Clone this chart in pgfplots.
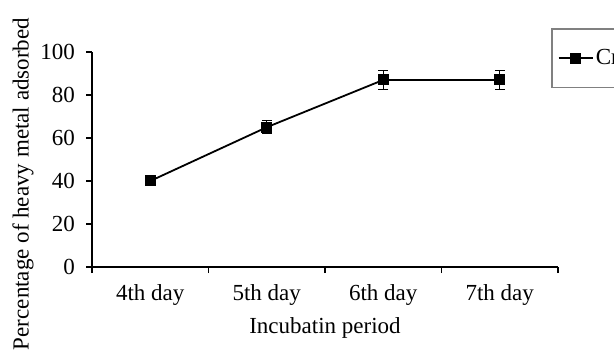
\documentclass[border=0pt]{standalone}
\usepackage{pgfplots}
\pgfplotsset{compat=1.18}
\usepackage{fontspec}
\setmainfont{Liberation Serif}
\begin{document}
\fontsize{11.5}{13.8}\selectfont
\begin{tikzpicture}
\path[use as bounding box] (-46pt,-45.5pt) rectangle (261pt,133.5pt);
\begin{axis}[
  at={(0,0)}, anchor=south west,
  scale only axis, width=233pt, height=107.5pt,
  axis lines=left, axis line style={-, line width=0.9pt},
  xmin=-0.5, xmax=3.5, ymin=0, ymax=100,
  xtick={-0.5,0.5,1.5,2.5,3.5},
  x tick label as interval,
  xticklabels={4th day,5th day,6th day,7th day},
  ytick={0,20,40,60,80,100},
  tick align=outside, major tick length=3pt,
  tick style={line width=0.8pt, black},
  /pgf/number format/assume math mode=true,
  tick label style={font=\fontsize{11.5}{13.8}\selectfont},
  x tick label style={yshift=-1.5pt},
  y tick label style={xshift=-1.5pt},
  label style={font=\fontsize{11.5}{13.8}\selectfont},
  xlabel={Incubatin period},
  ylabel={Percentage of heavy metal adsorbed},
  xlabel style={at={(axis description cs:0.5,-0.285)}, anchor=center},
  ylabel style={at={(axis description cs:-0.148,0.386)}, anchor=center},
  legend style={at={(axis description cs:0.985,1.1116)}, anchor=north west,
    draw=gray, line width=0.8pt, inner xsep=3pt, inner ysep=8pt,
    nodes={inner xsep=1pt},
    font=\fontsize{11.5}{13.8}\selectfont},
  legend cell align=left,
]
\addplot[black, line width=0.9pt, mark=square*, mark size=2.3pt,
  error bars/.cd, y dir=both, y explicit,
  error bar style={line width=0.5pt, black},
  error mark options={line width=0.5pt, mark size=2.5pt, rotate=90}]
  coordinates {
  (0,40) +- (0,1)
  (1,65) +- (0,3)
  (2,87) +- (0,4.5)
  (3,87) +- (0,4.5)
};
\addlegendentry{Cr}
\end{axis}
\end{tikzpicture}
\end{document}
